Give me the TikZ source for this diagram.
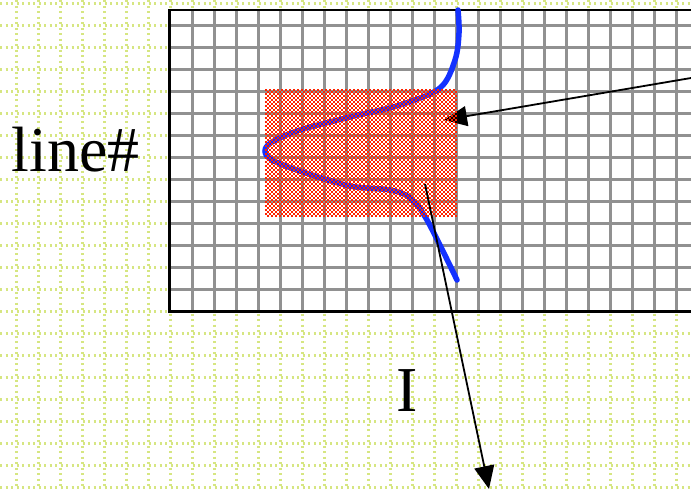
\documentclass[tikz,border=0pt]{standalone}
\usepackage{fontspec}
\setmainfont{Liberation Serif}
\usetikzlibrary{arrows.meta}
\definecolor{dotgrid}{RGB}{214,230,130}
\definecolor{gridgray}{RGB}{145,145,145}
\definecolor{curveblue}{RGB}{20,50,255}
\definecolor{checkred}{RGB}{255,36,0}
\tikzset{
  dotline/.style={dotgrid, line width=2.6pt, dash pattern=on 2.2pt off 3.3pt},
  grayline/.style={gridgray, line width=2.8pt},
  boxborder/.style={black, line width=2.6pt},
  bluecurve/.style={curveblue, line width=5.5pt, line cap=round},
  pointer/.style={black, line width=1.8pt, -{Triangle[length=23pt,width=20pt]}},
  bigtext/.style={inner sep=0pt, font=\fontsize{64}{70}\selectfont},
  checkrow/.style={checkred, line width=2pt, line cap=butt, dash pattern=on 2pt off 2pt}
}
\begin{document}
\begin{tikzpicture}[x=1pt,y=-1pt]
\useasboundingbox (0,0) rectangle (691,490);
\clip (0,0) rectangle (691,490);
\fill[white] (0,0) rectangle (691,490);
% dotted background grid
\foreach \i in {0,...,30} {
  \draw[dotline] ({16.3+22*\i},0) -- ({16.3+22*\i},490);
}
\foreach \j in {0,...,22} {
  \draw[dotline] (0,{3.3+22*\j}) -- (691,{3.3+22*\j});
}
% box with gray grid
\fill[white] (169.5,10) rectangle (700,311.5);
\foreach \i in {1,...,24} {
  \draw[grayline] ({170.3+22*\i},10) -- ({170.3+22*\i},311.5);
}
\foreach \j in {1,...,13} {
  \draw[grayline] (169.5,{3.3+22*\j}) -- (700,{3.3+22*\j});
}
\draw[boxborder] (700,10) -- (169.5,10) -- (169.5,311.5) -- (700,311.5);
% blue curve
\draw[bluecurve] plot[smooth, tension=0.55] coordinates {(458,10) (459,33) (455,60) (440,88) (400,105) (350,117) (300,130) (272,142) (265,151) (272,160) (300,171) (350,186) (390,190) (410,198) (427,220) (457,280)};
% arrow into the region
\coordinate (a1s) at (691,78);
\coordinate (a1e) at (444,120);
\draw[pointer] (a1s) -- (a1e);
% red checkered region (rows of dashes, alternating phase)
\foreach \r in {0,...,31} {
  \draw[checkrow] (265,{90+4*\r}) -- (457,{90+4*\r});
  \draw[checkrow, dash phase=2pt] (265,{92+4*\r}) -- (457,{92+4*\r});
}
% arrow out of the region
\coordinate (a2s) at (425,184);
\coordinate (a2e) at (489,489);
\draw[pointer] (a2s) -- (a2e);
% labels
\node[bigtext, anchor=base] (line) at (75.8,171.7) {line\#};
\node[bigtext, anchor=base] (I) at (406.7,411.7) {I};
\end{tikzpicture}
\end{document}
